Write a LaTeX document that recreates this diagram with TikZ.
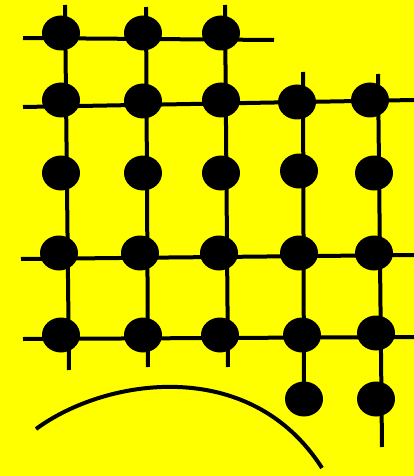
\documentclass[tikz,border=0pt]{standalone}
\usetikzlibrary{shapes.geometric}
\pgfdeclarelayer{bg}
\pgfdeclarelayer{lines}
\pgfsetlayers{bg,lines,main}
\definecolor{bgyellow}{RGB}{255,255,0}
\tikzset{
  dot/.style={ellipse,fill=black,draw=none,minimum width=38pt,minimum height=35pt,inner sep=0pt},
  gridline/.style={draw=black,line width=4pt},
  arcline/.style={draw=black,line width=4pt}
}
\begin{document}
\begin{tikzpicture}[x=1pt,y=-1pt]
\useasboundingbox (0,0) rectangle (414,476);
% dots
\node[dot] (d11) at (61,33) {};
\node[dot] (d12) at (143,33) {};
\node[dot] (d13) at (221,33) {};
\node[dot] (d21) at (61,100) {};
\node[dot] (d22) at (143,101) {};
\node[dot] (d23) at (221,100) {};
\node[dot] (d24) at (297,102) {};
\node[dot] (d25) at (370,100) {};
\node[dot] (d31) at (61,173) {};
\node[dot] (d32) at (143,173) {};
\node[dot] (d33) at (221,173) {};
\node[dot] (d34) at (299,171) {};
\node[dot] (d35) at (374,173) {};
\node[dot] (d41) at (59,253) {};
\node[dot] (d42) at (140,253) {};
\node[dot] (d43) at (219,253) {};
\node[dot] (d44) at (299,253) {};
\node[dot] (d45) at (374,253) {};
\node[dot] (d51) at (61,335) {};
\node[dot] (d52) at (143,335) {};
\node[dot] (d53) at (220,335) {};
\node[dot] (d54) at (302,335) {};
\node[dot] (d55) at (376,333) {};
\node[dot] (d64) at (304,399) {};
\node[dot] (d65) at (376,399) {};
% free ends
\coordinate (c1t) at (65,5);   \coordinate (c1b) at (69,370);
\coordinate (c2t) at (146,7);  \coordinate (c2b) at (148,367);
\coordinate (c3t) at (225,5);  \coordinate (c3b) at (228,367);
\coordinate (c4t) at (303,72);
\coordinate (c5t) at (378,74); \coordinate (c5b) at (382,447);
\coordinate (r1l) at (23,38);  \coordinate (r1r) at (274,40);
\coordinate (r2l) at (23,107); \coordinate (r2r) at (414,100);
\coordinate (r4l) at (21,259); \coordinate (r4r) at (414,255);
\coordinate (r5l) at (23,339); \coordinate (r5r) at (414,337);
\coordinate (a0) at (36,429);  \coordinate (a1) at (322,468);
\begin{pgfonlayer}{bg}
\fill[bgyellow] (0,0) rectangle (414,476);
\end{pgfonlayer}
\begin{pgfonlayer}{lines}
\draw[gridline] (c1t) -- (c1b);
\draw[gridline] (c2t) -- (c2b);
\draw[gridline] (c3t) -- (c3b);
\draw[gridline] (c4t) -- (d64.center);
\draw[gridline] (c5t) -- (c5b);
\draw[gridline] (r1l) -- (r1r);
\draw[gridline] (r2l) -- (r2r);
\draw[gridline] (r4l) -- (r4r);
\draw[gridline] (r5l) -- (r5r);
\end{pgfonlayer}
% arc
\draw[arcline] (a0) .. controls (105,378) and (250,355) .. (a1);
\end{tikzpicture}
\end{document}
